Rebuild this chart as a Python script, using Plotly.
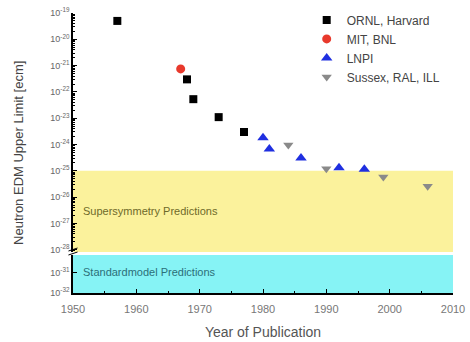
import plotly.graph_objects as go

# ---- data ----
ornl_years = [1957, 1968, 1969, 1973, 1977]
ornl_limits = [5e-20, 3e-22, 5.3e-23, 1.1e-23, 3e-24]

mit_years = [1967]
mit_limits = [7.5e-22]

lnpi_years = [1980, 1981, 1986, 1992, 1996]
lnpi_limits = [1.8e-24, 6.8e-25, 3.1e-25, 1.3e-25, 1.15e-25]

sussex_years = [1984, 1990, 1999, 2006]
sussex_limits = [9.6e-25, 1.2e-25, 5.8e-26, 2.6e-26]

band_years = [1950, 2010]
susy_band = [1e-25, 1e-30]      # upper / lower bound (lower clipped at axis break)
sm_band = [1e-29, 1e-32]        # upper clipped at axis break

upper_tick_exps = list(range(-19, -29, -1))
lower_tick_exps = [-31, -32]
x_ticks = [1950, 1960, 1970, 1980, 1990, 2000, 2010]

fig = go.Figure()

# bands
fig.add_trace(go.Scatter(
    x=[band_years[0], band_years[1], band_years[1], band_years[0], band_years[0]],
    y=[susy_band[0], susy_band[0], susy_band[1], susy_band[1], susy_band[0]],
    fill="toself", fillcolor="#fbf29c", line=dict(width=0), mode="lines",
    showlegend=False, hoverinfo="skip", xaxis="x", yaxis="y"))
fig.add_trace(go.Scatter(
    x=[band_years[0], band_years[1], band_years[1], band_years[0], band_years[0]],
    y=[sm_band[0], sm_band[0], sm_band[1], sm_band[1], sm_band[0]],
    fill="toself", fillcolor="#86f3f5", line=dict(width=0), mode="lines",
    showlegend=False, hoverinfo="skip", xaxis="x", yaxis="y2"))

# data
fig.add_trace(go.Scatter(x=ornl_years, y=ornl_limits, mode="markers", name="ORNL, Harvard",
                         marker=dict(symbol="square", size=8, color="#000000"), yaxis="y"))
fig.add_trace(go.Scatter(x=mit_years, y=mit_limits, mode="markers", name="MIT, BNL",
                         marker=dict(symbol="circle", size=9, color="#e8392c"), yaxis="y"))
fig.add_trace(go.Scatter(x=lnpi_years, y=lnpi_limits, mode="markers", name="LNPI",
                         marker=dict(symbol="triangle-up", size=10, color="#1f2fe0"), yaxis="y"))
fig.add_trace(go.Scatter(x=sussex_years, y=sussex_limits, mode="markers", name="Sussex, RAL, ILL",
                         marker=dict(symbol="triangle-down", size=9, color="#8a8a8a"), yaxis="y"))

tick_font = dict(family="Arial, Liberation Sans, sans-serif", size=9, color="#666666")

fig.update_layout(
    width=470, height=342,
    margin=dict(l=73, r=17, t=13, b=49, autoexpand=False),
    paper_bgcolor="white", plot_bgcolor="white",
    font=dict(family="Arial, Liberation Sans, sans-serif", color="#444444"),
    showlegend=True,
    legend=dict(x=0.615, y=1.027, xanchor="left", yanchor="top",
                font=dict(size=12, color="#444444"), bgcolor="rgba(0,0,0,0)",
                itemwidth=30, tracegroupgap=0),
    xaxis=dict(range=[1950, 2010], tickvals=x_ticks, anchor="y2", automargin=False,
               showline=True, linecolor="#000000", linewidth=1.5,
               ticks="inside", ticklen=4, tickcolor="#000000", ticklabelstandoff=5,
               minor=dict(ticks="inside", ticklen=2, dtick=5, tick0=1950, tickcolor="#000000"),
               showgrid=False, zeroline=False, tickfont=dict(size=11, color="#777777"),
               title=dict(text="Year of Publication", font=dict(size=14, color="#555555"), standoff=13)),
    yaxis=dict(type="log", domain=[0.146, 1.0], range=[-28.09, -19.0], anchor="x", automargin=False,
               tickvals=[10.0 ** e for e in upper_tick_exps],
               ticktext=["10<sup>%d</sup>" % e for e in upper_tick_exps],
               showline=True, linecolor="#000000", linewidth=1.5,
               ticks="inside", ticklen=4, tickcolor="#000000",
               minor=dict(ticks="inside", ticklen=2, dtick="D1", tickcolor="#000000"),
               showgrid=False, zeroline=False, tickfont=tick_font),
    yaxis2=dict(type="log", domain=[0.0, 0.136], range=[-32.0, -30.1], anchor="x", automargin=False,
                tickvals=[10.0 ** e for e in lower_tick_exps],
                ticktext=["10<sup>%d</sup>" % e for e in lower_tick_exps],
                showline=True, linecolor="#000000", linewidth=1.5,
                ticks="inside", ticklen=4, tickcolor="#000000",
                showgrid=False, zeroline=False, tickfont=tick_font),
)

fig.add_annotation(text="Neutron EDM Upper Limit [ecm]", xref="paper", yref="paper",
                   x=-0.145, y=0.5, textangle=-90, showarrow=False,
                   font=dict(size=13, color="#444444"), xanchor="center", yanchor="middle")
fig.add_annotation(text="Supersymmetry Predictions", xref="paper", yref="paper",
                   x=0.02, y=(293 - 211) / 280, xanchor="left", yanchor="middle", showarrow=False,
                   font=dict(size=11, color="#6e6a2a"))
fig.add_annotation(text="Standardmodel Predictions", xref="paper", yref="paper",
                   x=0.02, y=(293 - 272) / 280, xanchor="left", yanchor="middle", showarrow=False,
                   font=dict(size=11, color="#2c6f78"))

# axis-break marks
for dy in (0, 4):
    fig.add_shape(type="line", xref="paper", yref="paper",
                  x0=-0.012, x1=0.012, y0=(293 - 253 - dy + 2) / 280, y1=(293 - 253 - dy + 5) / 280,
                  line=dict(color="#000000", width=1))

fig.write_html("out.html", config={"displayModeBar": False},
               post_script="document.body.style.margin='0';")
